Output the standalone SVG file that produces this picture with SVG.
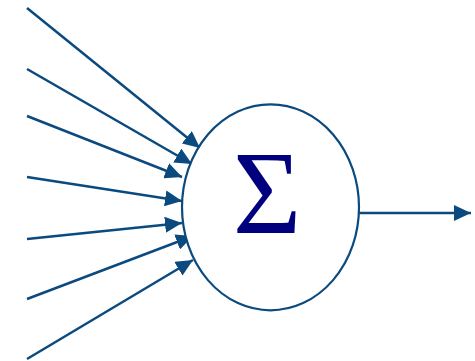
<svg xmlns="http://www.w3.org/2000/svg" width="475" height="361" viewBox="0 0 475 361">
<style>
.c{stroke:#0a4a7e;stroke-width:2.5;fill:none;marker-end:url(#ah)}
.n{stroke:#0a4a7e;stroke-width:2.2;fill:#fff}
.s{font-family:"Liberation Serif","Times New Roman",serif;font-size:118px;fill:#00007f}
</style>
<defs>
<marker id="ah" markerUnits="userSpaceOnUse" markerWidth="18" markerHeight="16" refX="17" refY="8" orient="auto">
<path d="M0,0 L17,8 L0,16 z" fill="#0a4a7e"/>
</marker>
</defs>
<g id="connectors">
<line class="c" x1="27" y1="8" x2="200" y2="148"/>
<line class="c" x1="27" y1="69" x2="192" y2="164"/>
<line class="c" x1="27" y1="116" x2="182" y2="177"/>
<line class="c" x1="27" y1="177" x2="182" y2="201"/>
<line class="c" x1="27" y1="239" x2="182" y2="223"/>
<line class="c" x1="27" y1="299" x2="193" y2="236"/>
<line class="c" x1="27" y1="359" x2="193" y2="260"/>
<line class="c" x1="359" y1="213" x2="471" y2="213"/>
</g>
<g id="sum">
<ellipse class="n" cx="270.5" cy="207.3" rx="88.5" ry="103"/>
<text class="s" x="267" y="233" text-anchor="middle">Σ</text>
</g>
</svg>
